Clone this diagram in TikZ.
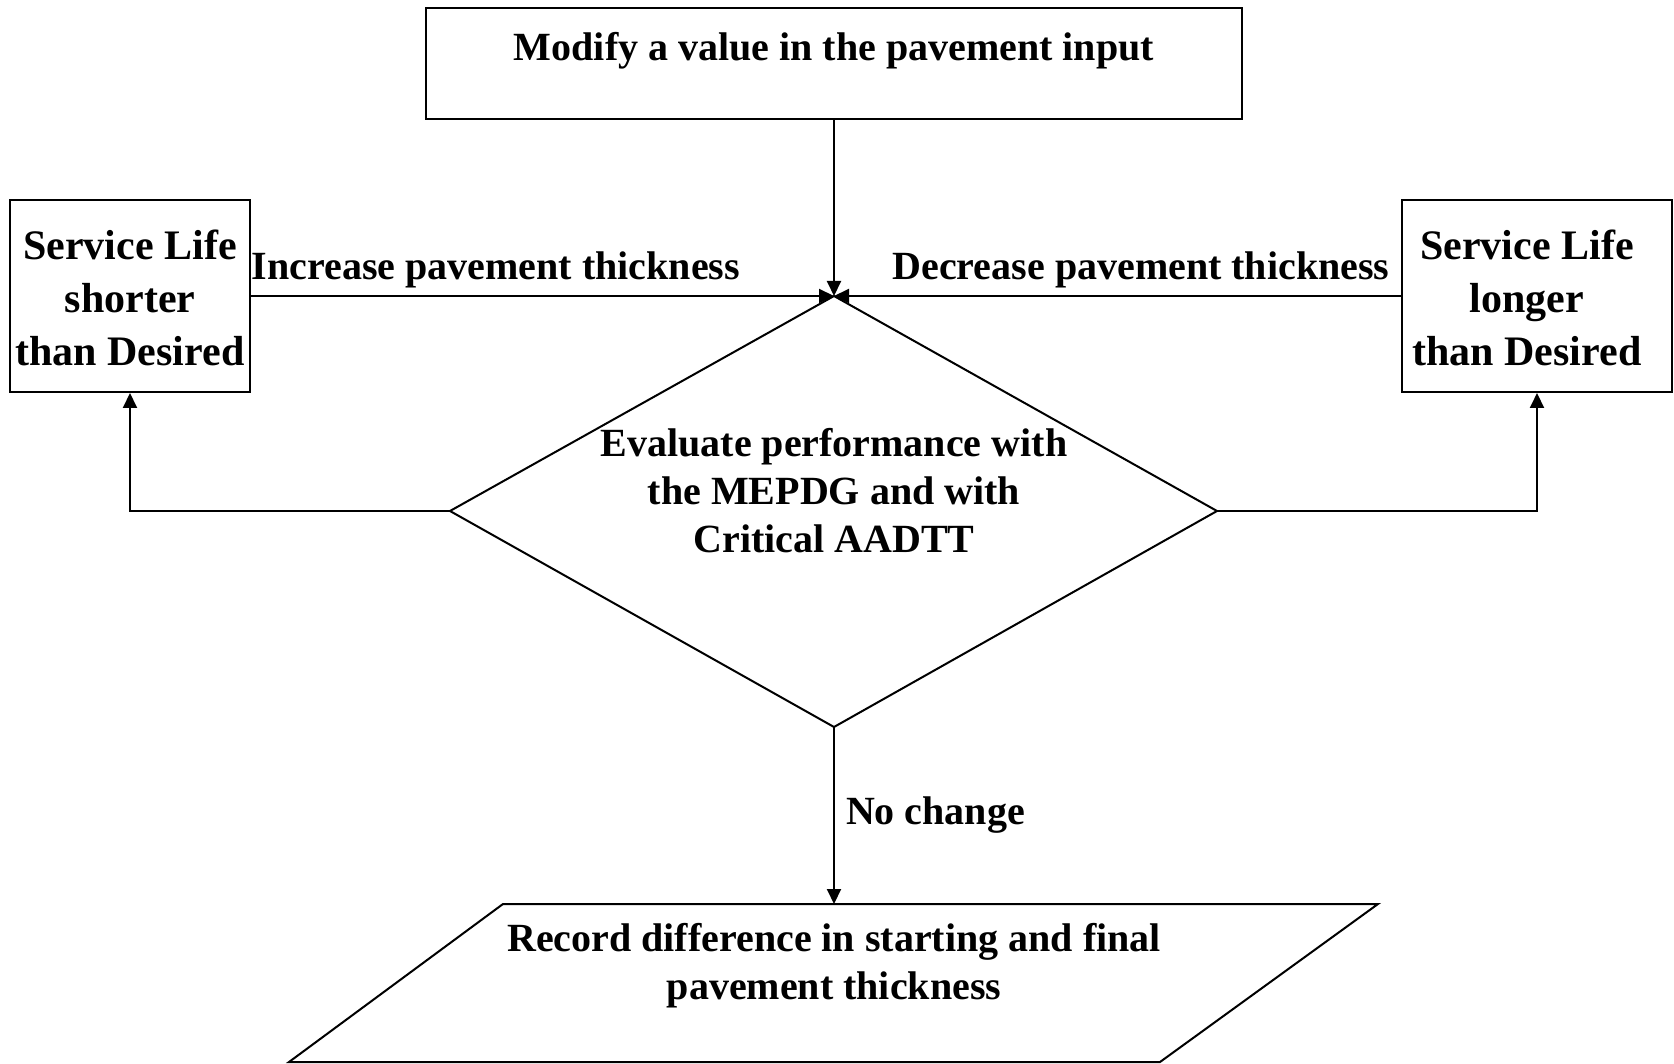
\documentclass[tikz,border=0pt]{standalone}
\usepackage{fontspec}
\setmainfont{Liberation Serif}
\usetikzlibrary{arrows.meta}
\begin{document}
\begin{tikzpicture}[x=1pt,y=-1pt,line width=2pt,
  box/.style={draw,line width=2pt,inner sep=0pt},
  txt/.style={font=\bfseries\fontsize{40}{48}\selectfont,align=center,inner sep=0pt},
  boxtxt/.style={font=\bfseries\fontsize{42}{53}\selectfont,align=center,inner sep=0pt},
  arr/.style={-{Triangle[length=15pt,width=14pt]}}]
\useasboundingbox (0,0) rectangle (1674,1064);
% boxes
\node[box,minimum width=816pt,minimum height=111pt] (top) at (834,64) {};
\node[txt] (toptxt) at (834,51) {Modify a value in the pavement input};
\node[box,minimum width=240pt,minimum height=192pt] (lb) at (130,296) {};
\node[boxtxt] (lbtxt) at (130,298) {Service Life\\shorter\\than Desired};
\node[box,minimum width=270pt,minimum height=192pt] (rb) at (1537,296) {};
\node[boxtxt] (rbtxt) at (1527,298) {Service Life\\longer\\than Desired};
% diamond
\coordinate (j) at (834,296);
\coordinate (dl) at (450,511);
\coordinate (dr) at (1217,511);
\coordinate (db) at (834,727);
\draw (j) -- (dr) -- (db) -- (dl) -- cycle;
\node[txt] (dtxt) at (834,491) {Evaluate performance with\\the MEPDG and with\\Critical AADTT};
% parallelogram
\coordinate (p1) at (503,904);
\coordinate (p2) at (1378,904);
\coordinate (p3) at (1160,1062);
\coordinate (p4) at (289,1062);
\coordinate (pt) at (834,904);
\draw (p1) -- (p2) -- (p3) -- (p4) -- cycle;
\node[txt] (ptxt) at (834,966) {Record difference in starting and final\\pavement thickness};
% connectors
\draw[arr] (top.south) -- (j);
\draw[arr] (lb.east) -- (j);
\draw[arr] (rb.west) -- (j);
\draw[arr] (dl) -| (lb.south);
\draw[arr] (dr) -| (rb.south);
\draw[arr] (db) -- (pt);
% labels
\node[txt] (inc) at (496,270) {Increase pavement thickness};
\node[txt] (dec) at (1141,270) {Decrease pavement thickness};
\node[txt,anchor=west] (nc) at (845,815) {No change};
\end{tikzpicture}
\end{document}
